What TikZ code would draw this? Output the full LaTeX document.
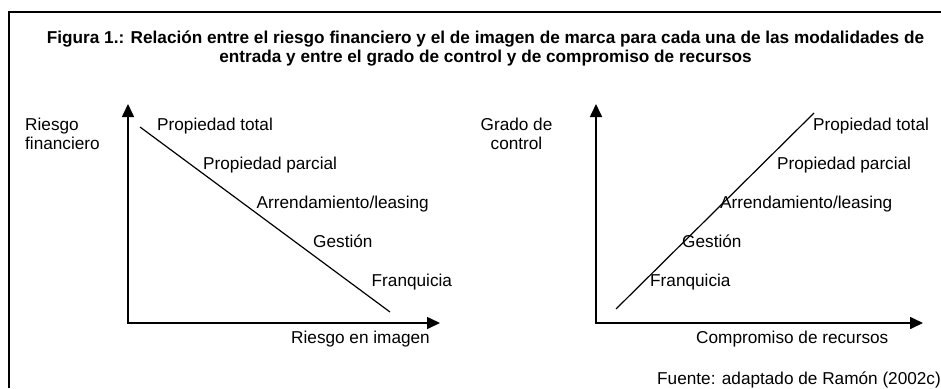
\documentclass[tikz,border=0pt]{standalone}
\usepackage{fontspec}
\setmainfont{Liberation Sans}
\usetikzlibrary{arrows.meta}

\begin{document}
\begin{tikzpicture}[x=1pt,y=-1pt,
  lbl/.style={anchor=base west, inner sep=0pt, font=\fontsize{17.2}{19}\selectfont},
  ejes/.style={line width=1.6pt, {Triangle[length=13pt,width=12pt]}-{Triangle[length=13pt,width=12pt]}},
  recta/.style={line width=1.2pt}]

\useasboundingbox (0,0) rectangle (941,388);

% marco
\draw [line width=1.5pt] (9,388) -- (9,12) -- (941,12);

\node [lbl, anchor=base, align=center, font=\bfseries\fontsize{17.2}{19}\selectfont] (titulo) at (485.5,62)
  {Figura 1.: Relación entre el riesgo financiero y el de imagen de marca para cada una de las modalidades de\\
   entrada y entre el grado de control y de compromiso de recursos};

% grafico izquierdo
\coordinate (oA) at (128,323);
\coordinate (yA) at (128,104);
\coordinate (xA) at (440,323);
\draw [ejes] (yA) -- (oA) -- (xA);

\coordinate (rA1) at (140,127);
\coordinate (rA2) at (390,312);
\draw [recta] (rA1) -- (rA2);

\node [lbl, align=left] (riesgoF) at (25,149) {Riesgo\\financiero};
\node [lbl] (totalA) at (157,130) {Propiedad total};
\node [lbl] (parcialA) at (203,169) {Propiedad parcial};
\node [lbl] (arrendA) at (256.5,208) {Arrendamiento/leasing};
\node [lbl] (gestionA) at (313,247) {Gestión};
\node [lbl] (franqA) at (371.5,286) {Franquicia};
\node [lbl] (riesgoI) at (291,343) {Riesgo en imagen};

% grafico derecho
\coordinate (oB) at (596,323);
\coordinate (yB) at (596,104);
\coordinate (xB) at (923,323);
\draw [ejes] (yB) -- (oB) -- (xB);

\coordinate (rB1) at (616,309);
\coordinate (rB2) at (814,113);
\draw [recta] (rB1) -- (rB2);

\node [lbl, anchor=base, align=center] (grado) at (516.5,149) {Grado de\\control};
\node [lbl] (totalB) at (813,130) {Propiedad total};
\node [lbl] (parcialB) at (777,169) {Propiedad parcial};
\node [lbl] (arrendB) at (720,208) {Arrendamiento/leasing};
\node [lbl] (gestionB) at (682,247) {Gestión};
\node [lbl] (franqB) at (650,286) {Franquicia};
\node [lbl] (compr) at (696,343) {Compromiso de recursos};

\node [lbl] (fuente) at (657,384) {Fuente: adaptado de Ramón (2002c)};

\end{tikzpicture}
\end{document}
